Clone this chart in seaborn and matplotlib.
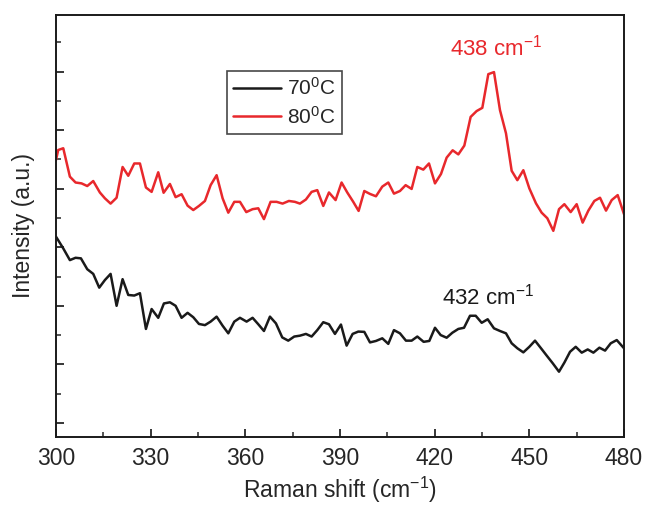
import matplotlib
matplotlib.use("Agg")
import matplotlib.pyplot as plt
from matplotlib.ticker import MultipleLocator, NullFormatter
import seaborn as sns
import pandas as pd

# ---- data ----
red_x = [300.0, 300.7, 302.3, 304.4, 306.2, 308.1, 309.9, 311.8, 313.9, 315.5, 317.3, 319.2, 321.1, 322.9,
         324.8, 326.6, 328.5, 330.3, 332.4, 334.1, 336.1, 337.9, 339.8, 341.7, 343.5, 345.3, 347.2, 349.0,
         350.9, 352.8, 354.6, 356.5, 358.3, 360.3, 362.3, 364.1, 365.9, 368.0, 369.9, 371.8, 373.8, 375.7,
         377.3, 379.2, 381.0, 382.8, 384.7, 386.5, 388.6, 390.5, 392.3, 394.2, 395.9, 397.7, 399.5, 401.4,
         403.4, 405.3, 407.1, 409.0, 410.8, 412.7, 414.5, 416.4, 418.2, 420.1, 422.0, 423.8, 425.7, 427.5,
         429.4, 431.4, 433.3, 435.1, 437.0, 438.8, 440.7, 442.6, 444.4, 446.2, 448.1, 450.0, 452.1, 453.9,
         455.7, 457.6, 459.4, 461.1, 463.1, 465.0, 466.9, 468.7, 470.6, 472.4, 474.3, 476.1, 478.0, 480.0]
red_y = [8.98, 9.32, 9.38, 8.41, 8.21, 8.18, 8.09, 8.26, 7.87, 7.67, 7.49, 7.69, 8.74, 8.44,
         8.86, 8.86, 8.04, 7.89, 8.56, 7.86, 8.16, 7.71, 7.81, 7.42, 7.27, 7.41, 7.58, 8.12,
         8.46, 7.67, 7.18, 7.55, 7.55, 7.20, 7.30, 7.33, 6.96, 7.55, 7.55, 7.49, 7.58, 7.55,
         7.49, 7.63, 7.89, 7.95, 7.41, 7.87, 7.61, 8.21, 7.87, 7.55, 7.24, 7.92, 7.82, 7.74,
         8.07, 8.21, 7.83, 7.92, 8.12, 7.99, 8.74, 8.65, 8.86, 8.18, 8.50, 9.06, 9.31, 9.17,
         9.47, 10.45, 10.65, 10.76, 11.91, 11.98, 10.68, 9.89, 8.61, 8.29, 8.63, 8.01, 7.50, 7.18,
         6.99, 6.56, 7.30, 7.47, 7.20, 7.47, 6.84, 7.25, 7.58, 7.69, 7.25, 7.61, 7.78, 7.13]

black_x = [300.0, 302.3, 304.4, 306.2, 307.9, 309.9, 311.8, 313.7, 315.5, 317.3, 319.2, 321.1, 322.9,
           324.8, 326.6, 328.5, 330.3, 332.4, 334.2, 336.1, 337.9, 339.8, 341.7, 343.5, 345.3, 347.2,
           349.0, 350.9, 352.8, 354.6, 356.5, 358.3, 360.4, 362.3, 364.1, 365.9, 367.8, 369.7, 371.7,
           373.6, 375.5, 377.3, 379.2, 381.0, 382.8, 384.7, 386.5, 388.4, 390.3, 392.1, 394.0, 395.8,
           397.7, 399.5, 401.4, 403.4, 405.3, 407.1, 409.0, 410.9, 412.7, 414.5, 416.5, 418.3, 420.1,
           421.9, 423.8, 425.6, 427.5, 429.3, 431.2, 433.0, 434.9, 436.8, 438.8, 440.7, 442.6, 444.4,
           446.2, 448.1, 450.0, 451.8, 453.7, 455.5, 457.4, 459.4, 461.1, 462.9, 464.7, 466.6, 468.5,
           470.3, 472.2, 474.0, 475.8, 477.7, 480.0]
black_y = [6.36, 5.96, 5.56, 5.64, 5.62, 5.25, 5.09, 4.62, 4.88, 5.09, 4.00, 4.91, 4.37,
           4.35, 4.43, 3.21, 3.89, 3.59, 4.08, 4.12, 4.00, 3.59, 3.76, 3.61, 3.38, 3.34,
           3.46, 3.63, 3.32, 3.06, 3.46, 3.59, 3.46, 3.59, 3.37, 3.14, 3.63, 3.40, 2.92,
           2.81, 2.95, 2.98, 3.04, 2.95, 3.17, 3.44, 3.37, 3.04, 3.36, 2.64, 3.04, 3.12,
           3.11, 2.75, 2.80, 2.89, 2.70, 3.17, 3.06, 2.81, 2.81, 2.95, 2.77, 2.80, 3.25,
           3.00, 2.91, 3.08, 3.21, 3.25, 3.66, 3.66, 3.42, 3.54, 3.23, 3.14, 3.06, 2.72,
           2.55, 2.41, 2.60, 2.81, 2.55, 2.30, 2.04, 1.75, 2.06, 2.43, 2.60, 2.40, 2.51,
           2.40, 2.57, 2.47, 2.72, 2.83, 2.55]

series_labels = ["70$^0$C", "80$^0$C"]
series_colors = ["#1a1a1a", "#e8282c"]
x_ticks = [300, 330, 360, 390, 420, 450, 480]
peak_labels = ["432 cm$^{-1}$", "438 cm$^{-1}$"]

# ---- style ----
sns.set_style("ticks")
plt.rcParams["font.family"] = ["Liberation Sans", "DejaVu Sans"]
plt.rcParams["mathtext.fontset"] = "custom"
plt.rcParams["mathtext.rm"] = "Liberation Sans"
plt.rcParams["mathtext.it"] = "Liberation Sans:italic"
plt.rcParams["mathtext.bf"] = "Liberation Sans:bold"
plt.rcParams["mathtext.sf"] = "Liberation Sans"

df = pd.concat([
    pd.DataFrame({"x": black_x, "y": black_y, "s": series_labels[0]}),
    pd.DataFrame({"x": red_x, "y": red_y, "s": series_labels[1]}),
], ignore_index=True)

fig = plt.figure(figsize=(6.48, 5.07), dpi=100)
ax = fig.add_axes([56 / 648, 1 - 437 / 507, (624 - 56) / 648, (437 - 15) / 507])

sns.lineplot(data=df, x="x", y="y", hue="s", palette=dict(zip(series_labels, series_colors)),
             estimator=None, sort=False, linewidth=1.8, ax=ax)

ax.set_xlim(300, 480)
ax.set_ylim(-0.48, 13.93)
ax.set_xticks(x_ticks)
ax.xaxis.set_minor_locator(MultipleLocator(15))
ax.yaxis.set_major_locator(MultipleLocator(2))
ax.yaxis.set_minor_locator(MultipleLocator(1))
ax.yaxis.set_major_formatter(NullFormatter())
ax.tick_params(axis="both", which="major", direction="in", length=6, width=1.3, labelsize=16.5, pad=7)
ax.tick_params(axis="both", which="minor", direction="in", length=3.5, width=1.1)
ax.tick_params(axis="both", top=False, right=False)
for sp in ax.spines.values():
    sp.set_visible(True)
    sp.set_linewidth(1.4)
    sp.set_color("#1a1a1a")

ax.set_xlabel("Raman shift (cm$^{-1}$)", fontsize=16.5, labelpad=4)
ax.set_ylabel("Intensity (a.u.)", fontsize=16.5, labelpad=8)

ax.text(436.9, 4.3, peak_labels[0], color=series_colors[0], fontsize=16, ha="center", va="center")
ax.text(439.4, 12.83, peak_labels[1], color=series_colors[1], fontsize=16, ha="center", va="center")

handles, labels = ax.get_legend_handles_labels()
leg = ax.legend(handles, labels, loc="upper left", bbox_to_anchor=(0.301, 0.867), frameon=True,
                fancybox=False, edgecolor="#1a1a1a", fontsize=15, handlelength=2.3,
                borderpad=0.3, labelspacing=0.3, handletextpad=0.3, borderaxespad=0)
leg.get_frame().set_linewidth(1.2)
for line in leg.get_lines():
    line.set_linewidth(1.8)

fig.savefig("out.png", dpi=100)
